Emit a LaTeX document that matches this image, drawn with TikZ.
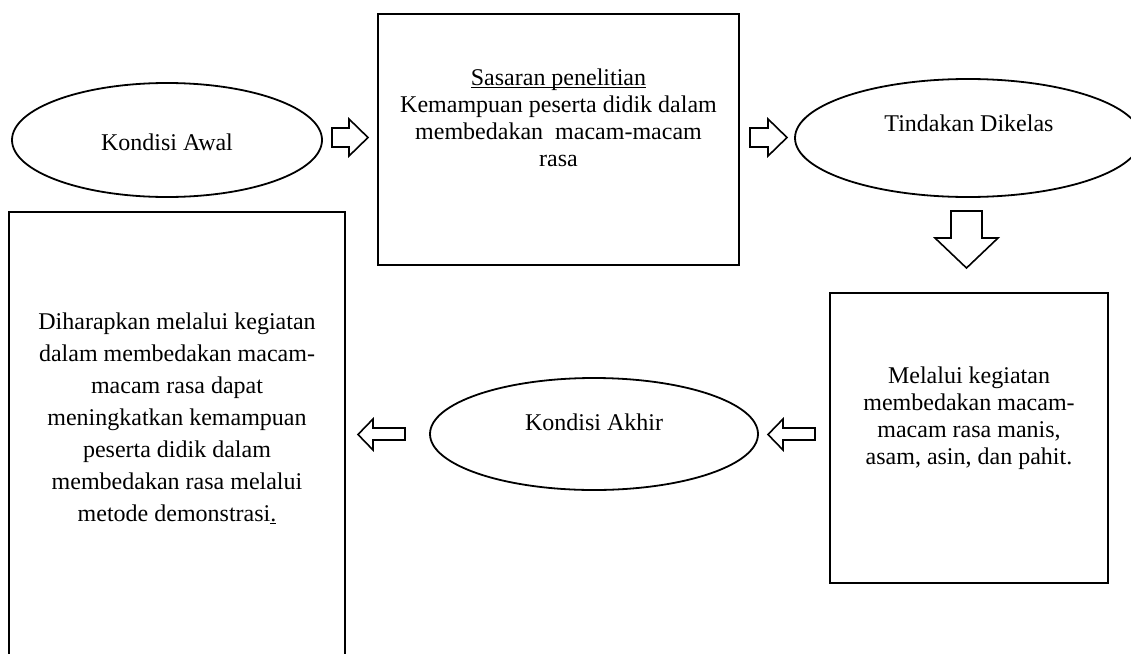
\documentclass[tikz,border=0pt]{standalone}
\usepackage{fontspec}
\setmainfont{Liberation Serif}
\usetikzlibrary{shapes.geometric}
\newcommand\wordul[1]{\setbox0\hbox{#1}\rlap{\rule[-2.6pt]{\wd0}{1.1pt}}\box0}
\tikzset{
  frame/.style={draw=black, line width=1.8pt, rectangle, inner sep=0pt},
  oval/.style={draw=black, line width=1.8pt, ellipse, inner sep=0pt},
  txt/.style={align=center, inner sep=0pt, font=\fontsize{24}{27}\selectfont},
  txtwide/.style={align=center, inner sep=0pt, font=\fontsize{24}{32}\selectfont},
  blockarrow/.style={draw=black, line width=1.6pt, fill=white, line join=miter}
}
\begin{document}
\begin{tikzpicture}[x=1pt, y=-1pt]
\useasboundingbox (0,0) rectangle (1131,653);
\clip (0,0) rectangle (1131,653);
% ellipses
\node[oval, minimum width=310, minimum height=114] (awal) at (167,140) {};
\node[txt] (awalT) at (167,142) {Kondisi Awal};
\node[oval, minimum width=346, minimum height=118] (tindakan) at (968,138) {};
\node[txt] (tindakanT) at (969,123) {Tindakan Dikelas};
\node[oval, minimum width=328, minimum height=112] (akhir) at (594,434) {};
\node[txt] (akhirT) at (594,422) {Kondisi Akhir};
% boxes
\node[frame, minimum width=361, minimum height=251] (sasaran) at (558.5,139.5) {};
\node[txt] (sasaranT) at (558.5,117.5) {\wordul{Sasaran penelitian}\\Kemampuan peserta didik dalam\\membedakan\ \ macam-macam\\rasa};
\node[frame, minimum width=278, minimum height=290] (melalui) at (969,438) {};
\node[txt] (melaluiT) at (969,418) {Melalui kegiatan\\membedakan macam-\\macam rasa manis,\\asam, asin, dan pahit.};
\node[frame, minimum width=336, minimum height=460] (harap) at (177,442) {};
\node[txtwide] (harapT) at (177,418) {Diharapkan melalui kegiatan\\dalam membedakan macam-\\macam rasa dapat\\meningkatkan kemampuan\\peserta didik dalam\\membedakan rasa melalui\\metode demonstrasi\wordul{.}};
% block arrows
\draw[blockarrow] (332,128) -- (349,128) -- (349,119) -- (368,137.5) -- (349,156) -- (349,147) -- (332,147) -- cycle;
\draw[blockarrow] (750,128) -- (768,128) -- (768,119) -- (787,137.5) -- (768,156) -- (768,147) -- (750,147) -- cycle;
\draw[blockarrow] (951,211) -- (982,211) -- (982,238) -- (998,238) -- (966.5,268) -- (935,238) -- (951,238) -- cycle;
\draw[blockarrow] (405,428) -- (373,428) -- (373,419) -- (358,434.5) -- (373,450) -- (373,440) -- (405,440) -- cycle;
\draw[blockarrow] (815,428) -- (783,428) -- (783,419) -- (768,434.5) -- (783,450) -- (783,440) -- (815,440) -- cycle;
\end{tikzpicture}
\end{document}
